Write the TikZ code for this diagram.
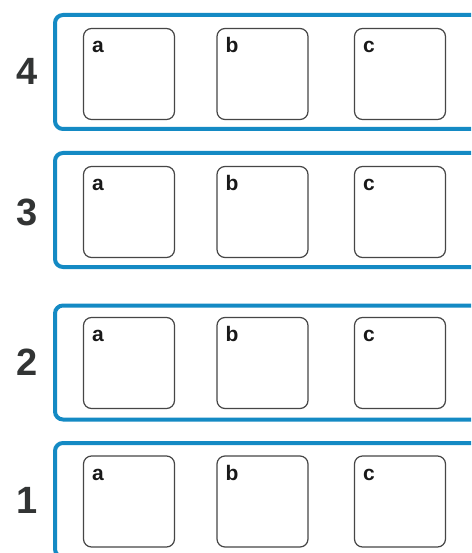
\documentclass[tikz,border=0pt]{standalone}
\usepackage{fontspec}
\setmainfont{Liberation Sans}
\definecolor{frameblue}{RGB}{20,138,196}
\definecolor{boxgray}{RGB}{70,70,70}
\definecolor{numgray}{RGB}{50,52,52}
\begin{document}
\begin{tikzpicture}[x=1pt,y=-1pt,
  rowframe/.style={draw=frameblue,line width=4pt,rounded corners=8pt,minimum width=440pt,minimum height=114pt,inner sep=0pt},
  cellbox/.style={draw=boxgray,line width=1.2pt,rounded corners=8pt,minimum width=91pt,minimum height=91pt,inner sep=0pt},
  celllabel/.style={anchor=base west,inner sep=0pt,font=\bfseries\fontsize{21}{21}\selectfont,text=black!90},
  rownum/.style={anchor=center,inner sep=0pt,font=\bfseries\fontsize{38}{38}\selectfont,text=numgray}]
\useasboundingbox (0,0) rectangle (471,553);
\fill[white] (0,0) rectangle (471,553);
\clip (0,0) rectangle (471,553);
\foreach \r/\fy/\by/\ny in {4/72/74/71, 3/210/212/212, 2/362.5/363/362, 1/500/501.5/500}{
  \node[rowframe] (f\r) at (275,\fy) {};
  \node[rownum] (n\r) at (27,\ny) {\r};
  \foreach \c/\bx in {a/129, b/262.5, c/400}{
    \node[cellbox] (b\r\c) at (\bx,\by) {};
    \node[celllabel] (l\r\c) at ([xshift=9pt,yshift=-25pt]b\r\c.north west) {\c};
  }
}
\end{tikzpicture}
\end{document}
